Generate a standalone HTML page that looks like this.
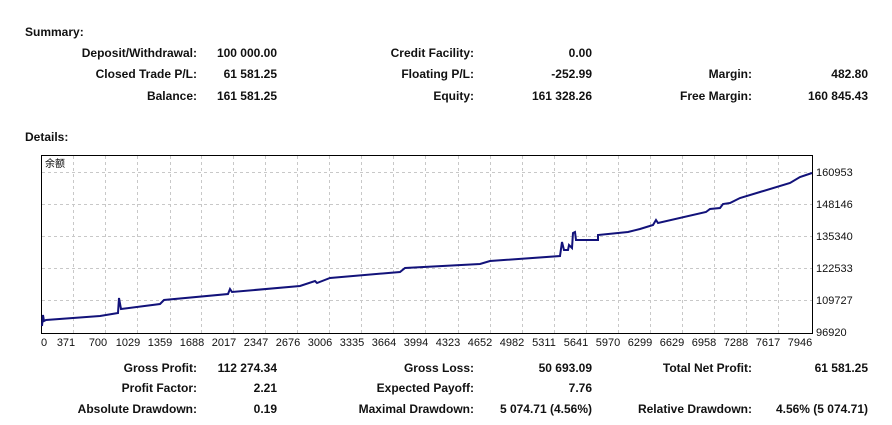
<!DOCTYPE html>
<html><head><meta charset="utf-8"><style>
body{margin:0;background:#fff;width:892px;height:425px;position:relative;overflow:hidden;font-family:"Liberation Sans","Noto Sans CJK SC",sans-serif;font-size:12px;font-weight:bold;color:#111}
.t{position:absolute;white-space:nowrap;line-height:14px}
.r{transform:translateX(-100%)}
svg{font-weight:normal}
</style></head><body>
<div class="t" style="left:25px;top:25px">Summary:</div>
<div class="t r" style="left:197px;top:46px">Deposit/Withdrawal:</div>
<div class="t r" style="left:277px;top:46px">100 000.00</div>
<div class="t r" style="left:197px;top:67px">Closed Trade P/L:</div>
<div class="t r" style="left:277px;top:67px">61 581.25</div>
<div class="t r" style="left:197px;top:89px">Balance:</div>
<div class="t r" style="left:277px;top:89px">161 581.25</div>
<div class="t r" style="left:474px;top:46px">Credit Facility:</div>
<div class="t r" style="left:592px;top:46px">0.00</div>
<div class="t r" style="left:474px;top:67px">Floating P/L:</div>
<div class="t r" style="left:592px;top:67px">-252.99</div>
<div class="t r" style="left:474px;top:89px">Equity:</div>
<div class="t r" style="left:592px;top:89px">161 328.26</div>
<div class="t r" style="left:752px;top:67px">Margin:</div>
<div class="t r" style="left:868px;top:67px">482.80</div>
<div class="t r" style="left:752px;top:89px">Free Margin:</div>
<div class="t r" style="left:868px;top:89px">160 845.43</div>
<div class="t" style="left:25px;top:130px">Details:</div>

<svg width="892" height="425" style="position:absolute;left:0;top:0" font-family="Liberation Sans, sans-serif" font-size="11">
<g stroke="#c8c8c8" stroke-dasharray="3,3" stroke-width="1">
<line x1="73.5" y1="156" x2="73.5" y2="333"/><line x1="105.5" y1="156" x2="105.5" y2="333"/><line x1="137.5" y1="156" x2="137.5" y2="333"/><line x1="170.5" y1="156" x2="170.5" y2="333"/><line x1="201.5" y1="156" x2="201.5" y2="333"/><line x1="233.5" y1="156" x2="233.5" y2="333"/><line x1="265.5" y1="156" x2="265.5" y2="333"/><line x1="297.5" y1="156" x2="297.5" y2="333"/><line x1="329.5" y1="156" x2="329.5" y2="333"/><line x1="361.5" y1="156" x2="361.5" y2="333"/><line x1="393.5" y1="156" x2="393.5" y2="333"/><line x1="425.5" y1="156" x2="425.5" y2="333"/><line x1="458.5" y1="156" x2="458.5" y2="333"/><line x1="490.5" y1="156" x2="490.5" y2="333"/><line x1="522.5" y1="156" x2="522.5" y2="333"/><line x1="554.5" y1="156" x2="554.5" y2="333"/><line x1="586.5" y1="156" x2="586.5" y2="333"/><line x1="618.5" y1="156" x2="618.5" y2="333"/><line x1="650.5" y1="156" x2="650.5" y2="333"/><line x1="682.5" y1="156" x2="682.5" y2="333"/><line x1="714.5" y1="156" x2="714.5" y2="333"/><line x1="746.5" y1="156" x2="746.5" y2="333"/><line x1="778.5" y1="156" x2="778.5" y2="333"/>
<line x1="42" y1="172.5" x2="812" y2="172.5"/><line x1="42" y1="204.5" x2="812" y2="204.5"/><line x1="42" y1="236.5" x2="812" y2="236.5"/><line x1="42" y1="268.5" x2="812" y2="268.5"/><line x1="42" y1="300.5" x2="812" y2="300.5"/>
</g>
<rect x="41.5" y="155.5" width="771" height="178" fill="none" stroke="#000"/>
<text x="45" y="167" font-size="10" font-family="Noto Sans CJK SC, sans-serif">余额</text>
<polyline fill="none" stroke="#12127a" stroke-width="2" points="42,326 43,315 44,321 46,320 100,316 118,313 119,298 121,309 160,304 164,300 228,294 230,289 232,292 300,286 315,281 317,283 330,278 400,272 405,268 480,264 490,261 560,256 562,242 564,250 568,250 569,245 572,248 573,233 575,232 576,240 598,240 598,235 628,232 640,229 653,225 656,220 658,223 706,212 710,209 720,208 723,204 730,203 740,198 760,192 790,183 800,177 812,173"/>
<g fill="#111">
<text x="816" y="176">160953</text><text x="816" y="208">148146</text><text x="816" y="240">135340</text><text x="816" y="272">122533</text><text x="816" y="304">109727</text><text x="816" y="336">96920</text>
</g>
<g fill="#111" text-anchor="middle">
<text x="44" y="346">0</text><text x="66" y="346">371</text><text x="98" y="346">700</text><text x="128" y="346">1029</text><text x="160" y="346">1359</text><text x="192" y="346">1688</text><text x="224" y="346">2017</text><text x="256" y="346">2347</text><text x="288" y="346">2676</text><text x="320" y="346">3006</text><text x="352" y="346">3335</text><text x="384" y="346">3664</text><text x="416" y="346">3994</text><text x="448" y="346">4323</text><text x="480" y="346">4652</text><text x="512" y="346">4982</text><text x="544" y="346">5311</text><text x="576" y="346">5641</text><text x="608" y="346">5970</text><text x="640" y="346">6299</text><text x="672" y="346">6629</text><text x="704" y="346">6958</text><text x="736" y="346">7288</text><text x="768" y="346">7617</text><text x="800" y="346">7946</text>
</g>
</svg>

<div class="t r" style="left:197px;top:361px">Gross Profit:</div>
<div class="t r" style="left:277px;top:361px">112 274.34</div>
<div class="t r" style="left:197px;top:381px">Profit Factor:</div>
<div class="t r" style="left:277px;top:381px">2.21</div>
<div class="t r" style="left:197px;top:402px">Absolute Drawdown:</div>
<div class="t r" style="left:277px;top:402px">0.19</div>
<div class="t r" style="left:474px;top:361px">Gross Loss:</div>
<div class="t r" style="left:592px;top:361px">50 693.09</div>
<div class="t r" style="left:474px;top:381px">Expected Payoff:</div>
<div class="t r" style="left:592px;top:381px">7.76</div>
<div class="t r" style="left:474px;top:402px">Maximal Drawdown:</div>
<div class="t r" style="left:592px;top:402px">5 074.71 (4.56%)</div>
<div class="t r" style="left:752px;top:361px">Total Net Profit:</div>
<div class="t r" style="left:868px;top:361px">61 581.25</div>
<div class="t r" style="left:752px;top:402px">Relative Drawdown:</div>
<div class="t r" style="left:868px;top:402px">4.56% (5 074.71)</div>
</body></html>
